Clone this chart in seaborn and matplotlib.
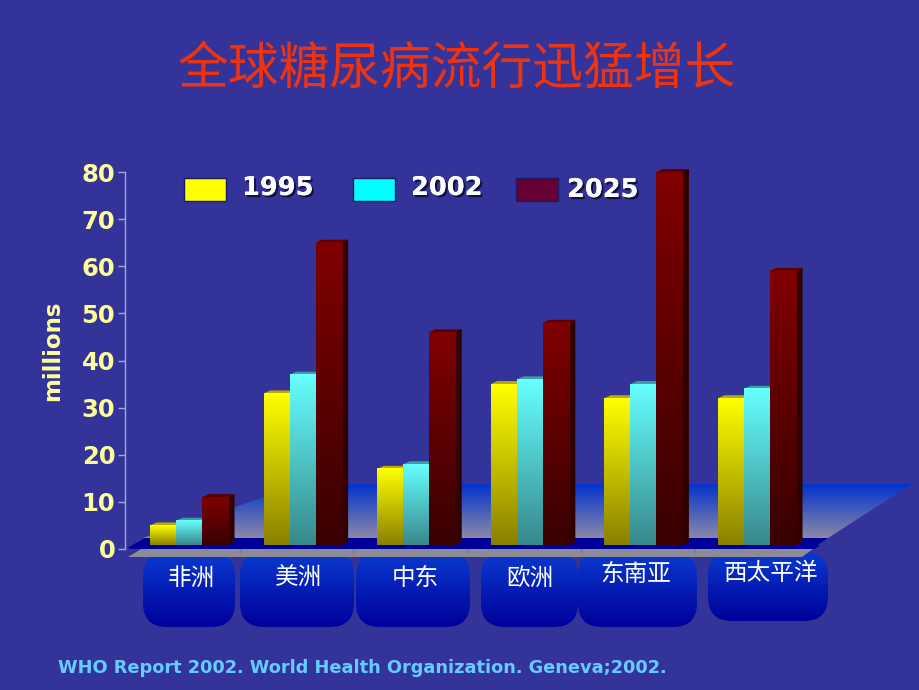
import numpy as np
import pandas as pd
import matplotlib
matplotlib.use("Agg")
import matplotlib.pyplot as plt
import matplotlib.patheffects as pe
from matplotlib.colors import LinearSegmentedColormap
from matplotlib.patches import Polygon, FancyBboxPatch, Rectangle
import seaborn as sns

regions = ["非洲", "美洲", "中东", "欧洲", "东南亚", "西太平洋"]
years = ["1995", "2002", "2025"]
v1995 = [5, 33, 17, 35, 32, 32]
v2002 = [6, 37, 18, 36, 35, 34]
v2025 = [11, 65, 46, 48, 80, 59]
y_ticks = [0, 10, 20, 30, 40, 50, 60, 70, 80]
title = "全球糖尿病流行迅猛增长"
source = "WHO Report 2002. World Health Organization. Geneva;2002."
y_label = "millions"

BG = "#333399"
CJK = ["Noto Sans CJK SC", "DejaVu Sans"]
W, H = 920, 690

sns.set_theme(style="white")
plt.rcParams["font.family"] = ["DejaVu Sans"]

df = pd.DataFrame({
    "region": regions * 3,
    "year": np.repeat(years, len(regions)),
    "value": v1995 + v2002 + v2025,
})

fig = plt.figure(figsize=(9.2, 6.9), dpi=100, facecolor=BG)


def overlay(z):
    a = fig.add_axes([0, 0, 1, 1], zorder=z)
    a.set_xlim(0, W)
    a.set_ylim(H, 0)
    a.axis("off")
    return a


under = overlay(0)
top = overlay(3)


def grad_fill(a, patch, c1, c2, extent, z):
    patch.set(facecolor="none", edgecolor="none", zorder=z)
    a.add_patch(patch)
    cm = LinearSegmentedColormap.from_list("g", [c1, c2])
    im = a.imshow(np.linspace(0, 1, 128).reshape(-1, 1), cmap=cm, extent=extent,
                  aspect="auto", zorder=z, origin="upper", interpolation="bilinear")
    im.set_clip_path(patch)
    return im


# back wall
grad_fill(under, Polygon([(143, 538), (303, 484), (912, 484), (828, 538)]),
          "#0433cc", "#8a88a8", (143, 912, 538, 484), 1)
# region buttons
buttons = [(143, 235, 627), (240, 354, 627), (356, 470, 627),
           (481, 578, 627), (578, 697, 627), (708, 828, 621)]
for x0, x1, y1 in buttons:
    b = FancyBboxPatch((x0, 552), x1 - x0, y1 - 552,
                       boxstyle="round,pad=0,rounding_size=24")
    grad_fill(under, b, "#0a3ad0", "#000099", (x0, x1, y1, 552), 2)
# floor
under.add_patch(Polygon([(127, 548), (145, 538), (828, 538), (815, 548)],
                        fc="#000099", ec="none", zorder=3))
under.add_patch(Polygon([(128, 557), (143, 548), (815, 548), (828, 538), (802, 557)],
                        fc="#8c8c98", ec="none", zorder=3))
under.vlines([240, 353, 467, 581, 695], 549, 553, color="#77778a", lw=1, zorder=4)
under.set_xlim(0, W)
under.set_ylim(H, 0)

# main chart
L, R, T, B = 125, 830, 172, 549
ax = fig.add_axes([L / W, 1 - B / H, (R - L) / W, (B - T) / H], zorder=2)
ax.patch.set_visible(False)
palette = dict(zip(years, ["#ffff00", "#66ffff", "#800000"]))
sns.barplot(data=df, x="region", y="value", hue="year", order=regions,
            hue_order=years, palette=palette, width=0.687, gap=0, dodge=True,
            saturation=1, legend=False, ax=ax, linewidth=0, edgecolor="none")

xlim = ((L - 189) / 113.6, (R - 189) / 113.6)
ylim = (0, 80)
px_x = (xlim[1] - xlim[0]) / (R - L)
px_y = 80 / (B - T)
base = 4 * px_y
dx, dy = 6.5 * px_x, 3 * px_y

bottoms = {"#ffff00": "#8a8000", "#66ffff": "#38888c", "#800000": "#380000"}
tops = {"#ffff00": "#b8ac00", "#66ffff": "#3aa0a0", "#800000": "#5a0000"}
hexes = list(palette.values())
for i, yr in enumerate(years):
    col = hexes[i]
    for j in range(len(regions)):
        p = ax.patches[i * len(regions) + j]
        x0, w, h = p.get_x(), p.get_width(), p.get_height()
        x1 = x0 + w
        z = 5 + j * 3 + i * 0.5
        p.set_zorder(z)
        ax.add_patch(Polygon([(x0, h), (x1, h), (x1 + dx, h + dy), (x0 + dx, h + dy)],
                             fc=tops[col], ec="none", zorder=z - 0.1, clip_on=False))
        if i == 2:
            ax.add_patch(Polygon([(x1, base), (x1, h), (x1 + dx, h + dy), (x1 + dx, base + dy)],
                                 fc="#300000", ec="none", zorder=z - 0.1, clip_on=False))
        cm = LinearSegmentedColormap.from_list("b", [col, bottoms[col]])
        ax.imshow(np.linspace(0, 1, 128).reshape(-1, 1), cmap=cm, aspect="auto",
                  extent=(x0, x1, base, h), origin="upper", zorder=z + 0.1,
                  interpolation="bilinear", clip_on=False)

# front lip of the floor hides the part of the bars below their foot
ax.add_patch(Polygon([(xlim[0] + 4 * px_x, 0), (xlim[0] + 8 * px_x, base),
                      (xlim[1] - 10 * px_x, base), (xlim[1] - 15 * px_x, 0)],
                     fc="#000099", ec="none", zorder=40, clip_on=False))

ax.set_xlim(*xlim)
ax.set_ylim(*ylim)
ax.set_yticks(y_ticks)
ax.set_yticklabels([str(t) for t in y_ticks], fontsize=17.5, fontweight="bold", color="#ffff99")
ax.set_xticks([])
ax.tick_params(axis="y", length=5, width=1, color="#a6a6dd", pad=2, left=True)
ax.set_xlabel("")
ax.set_ylabel("")
for s in ["top", "right", "bottom"]:
    ax.spines[s].set_visible(False)
ax.spines["left"].set_color("#a6a6dd")
ax.spines["left"].set_linewidth(1)

# texts
top.text((178 + 735) / 2, 70, title, family=CJK, fontsize=36.5, color="#ee3311",
         ha="center", va="center")
top.text(53, 351, y_label, rotation=90, fontsize=16.5, fontweight="bold",
         color="#ffff99", ha="center", va="center")
top.text(58, 668, source, fontsize=12.8, fontweight="bold", color="#66ccff",
         ha="left", va="center")

shadow = [pe.withSimplePatchShadow(offset=(1.5, -1.5), shadow_rgbFace="#101040", alpha=1), pe.Normal()]
swatches = ["#ffff00", "#00ffff", "#660033"]
for yr, col, sx, tx, ty in zip(years, swatches, [184, 353, 516], [242, 411, 567], [188, 188, 190]):
    top.add_patch(Rectangle((sx, 178), 42, 23, fc=col, ec="#1a1a66", lw=1))
    t = top.text(tx, ty, yr, fontsize=18.5, fontweight="bold", color="white", ha="left", va="center")
    t.set_path_effects(shadow)

label_pos = [(191, 578), (299, 578), (415, 578), (530, 578), (636, 574), (771, 574)]
for name, (lx, ly) in zip(regions, label_pos):
    top.text(lx, ly, name, family=CJK, fontsize=17, color="white", ha="center", va="center")

fig.savefig("out.png", dpi=100, facecolor=BG)
